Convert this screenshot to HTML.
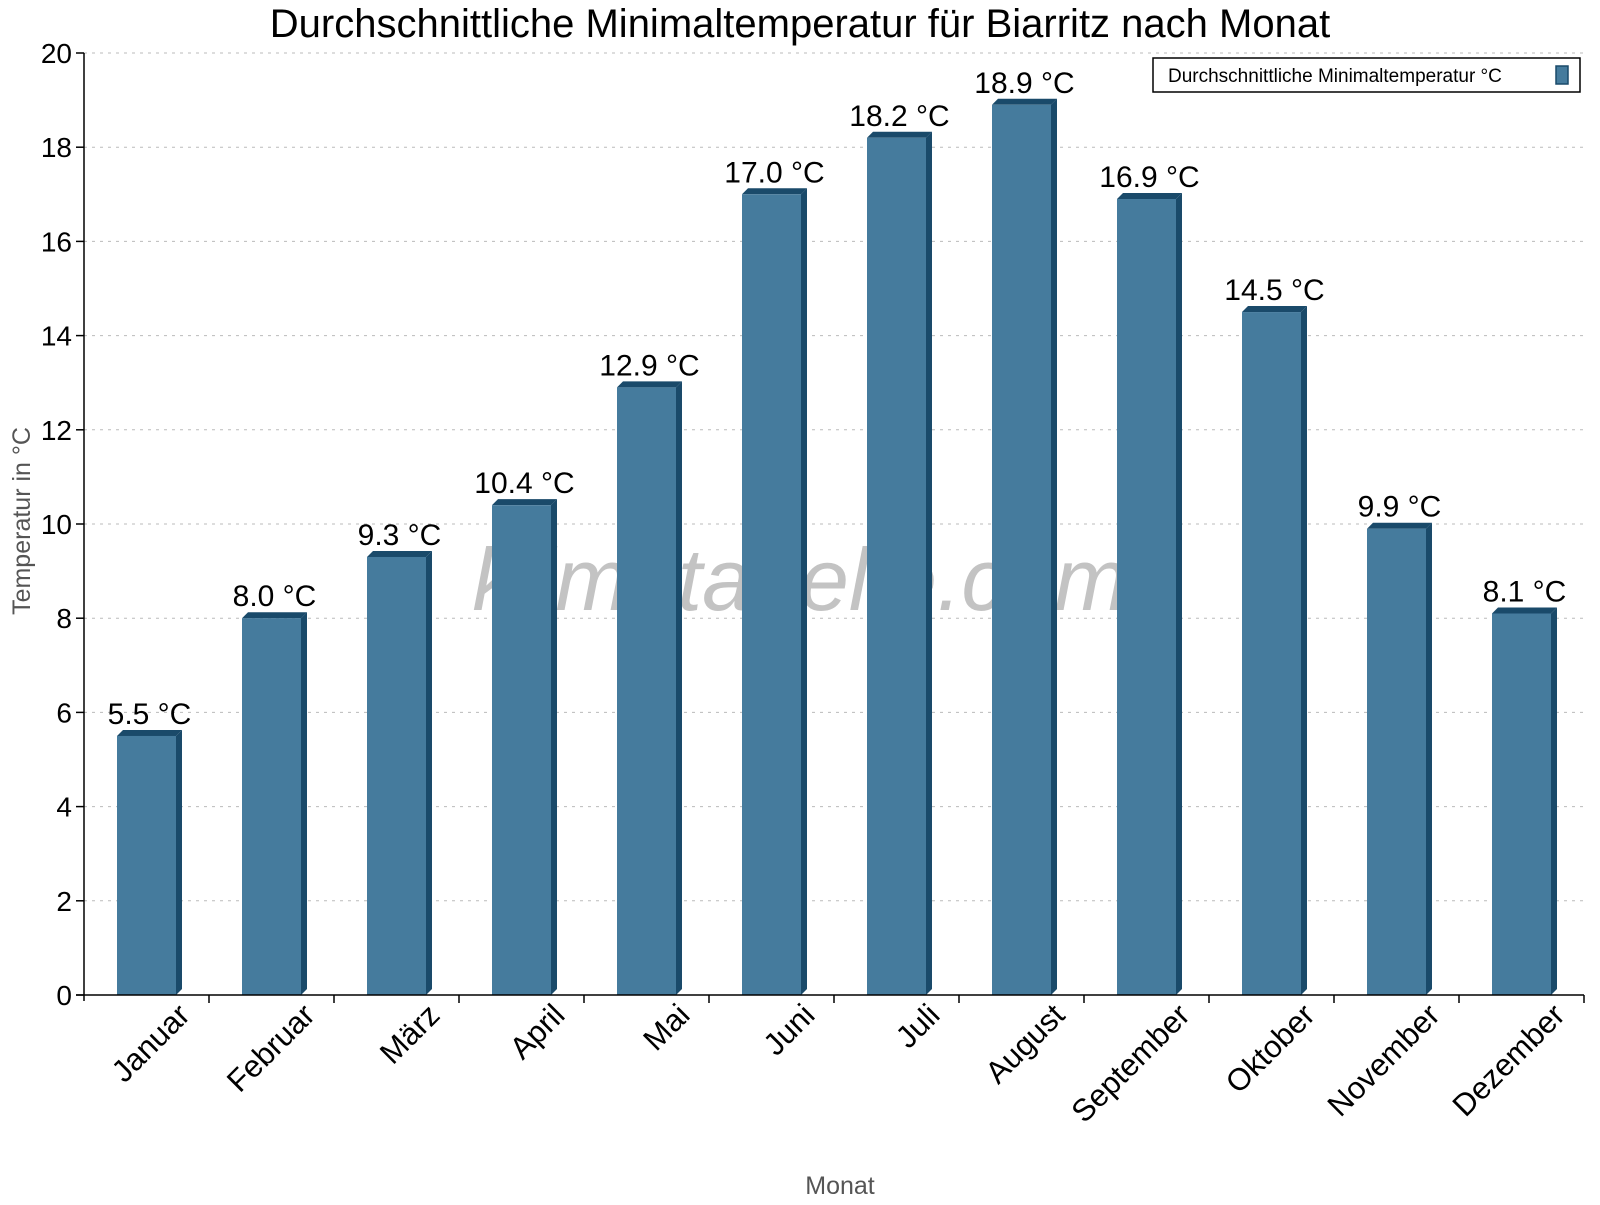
<!DOCTYPE html>
<html><head><meta charset="utf-8"><style>
body{margin:0;background:#fff}
svg{font-family:"Liberation Sans",Arial,sans-serif}
</style></head><body>
<svg id="chart" width="1600" height="1200" viewBox="0 0 1600 1200">
<text x="800" y="37" font-size="40" text-anchor="middle">Durchschnittliche Minimaltemperatur für Biarritz nach Monat</text>
<g id="grid"></g>
<text x="800" y="610" font-size="88" font-style="italic" fill="#888" fill-opacity="0.5" text-anchor="middle">klimatabelle.com</text>
<g id="bars"></g>
<g id="axes"></g>
<text x="840" y="1194" font-size="25" fill="#555" text-anchor="middle">Monat</text>
<text transform="translate(30,521) rotate(-90)" font-size="25" fill="#555" text-anchor="middle">Temperatur in °C</text>
<g>
<rect x="1153" y="58" width="427" height="34" fill="#fff" stroke="#000" stroke-width="1.5"/>
<text x="1168" y="82" font-size="19">Durchschnittliche Minimaltemperatur °C</text>
<rect x="1556" y="66" width="12" height="18" fill="#457b9d" stroke="#1a4a6a" stroke-width="1.5"/>
</g>
</svg>
<script>
const categories=["Januar","Februar","März","April","Mai","Juni","Juli","August","September","Oktober","November","Dezember"];
const values=[5.5,8.0,9.3,10.4,12.9,17.0,18.2,18.9,16.9,14.5,9.9,8.1];
const yTicks=[0,2,4,6,8,10,12,14,16,18,20];
const valueLabels=["5.5 °C","8.0 °C","9.3 °C","10.4 °C","12.9 °C","17.0 °C","18.2 °C","18.9 °C","16.9 °C","14.5 °C","9.9 °C","8.1 °C"];
const NS="http://www.w3.org/2000/svg";
const L=84,R=1584,T=53,B=995,ymax=20;
const y=v=>B-(v/ymax)*(B-T);
const cw=(R-L)/categories.length;
const xc=i=>L+cw*(i+0.5);
function mk(tag,attrs,parent){const e=document.createElementNS(NS,tag);for(const k in attrs)e.setAttribute(k,attrs[k]);parent.appendChild(e);return e;}
const grid=document.getElementById('grid'),bars=document.getElementById('bars'),axes=document.getElementById('axes');
yTicks.forEach(t=>{
 if(t>0){const g=mk('line',{x1:L,x2:R,y1:y(t),y2:y(t),stroke:'#bbb','stroke-dasharray':'3,5'},grid);
 
 }
 const tk=mk('line',{x1:L-8,x2:L,y1:y(t),y2:y(t),stroke:'#000','stroke-width':1.5},axes);
 
 
 const lb=mk('text',{x:L-12,y:y(t)+10,'font-size':28,'text-anchor':'end'},axes);
 lb.textContent=t;
 
 
});
const ya=mk('line',{x1:L,x2:L,y1:T,y2:B+6,stroke:'#000','stroke-width':1.5},axes);


const xa=mk('line',{x1:L-8,x2:R,y1:B,y2:B,stroke:'#000','stroke-width':1.5},axes);


const bw=59,d=6;
values.forEach((v,i)=>{
 const cx=xc(i),x0=cx-bw/2,yt=y(v);
 const g=mk('g',{},bars);
 
 
 mk('polygon',{points:`${x0+bw},${yt} ${x0+bw+d},${yt-d} ${x0+bw+d},${B-d} ${x0+bw},${B}`,fill:'#1a4a6a'},g);
 mk('polygon',{points:`${x0},${yt} ${x0+d},${yt-d} ${x0+bw+d},${yt-d} ${x0+bw},${yt}`,fill:'#1a4a6a'},g);
 mk('rect',{x:x0,y:yt,width:bw,height:B-yt,fill:'#457b9d'},g);
 const vl=mk('text',{x:cx+3,y:yt-12,'font-size':30,'text-anchor':'middle'},bars);
 vl.textContent=valueLabels[i];
 
 
 const tk=mk('line',{x1:L+cw*(i+1),x2:L+cw*(i+1),y1:B,y2:B+8,stroke:'#000','stroke-width':1.5},axes);
 
 
 const xl=mk('text',{transform:`translate(${cx+45},${B+22}) rotate(-45)`,'font-size':31,'text-anchor':'end'},axes);
 xl.textContent=categories[i];
 
 
});
</script>
</body></html>
